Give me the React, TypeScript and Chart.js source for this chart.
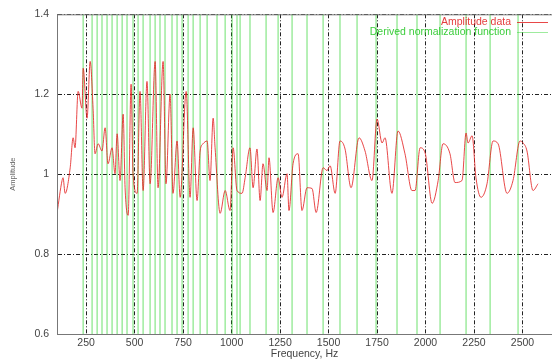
import React, { useEffect, useRef } from "react";
import { Chart, registerables } from "chart.js";

Chart.register(...registerables);

const FREQ = [
  100, 126, 131, 142, 168, 183, 193, 209, 229, 235, 255, 271, 286, 296, 312, 332, 348, 363, 384, 399,
  410, 425, 441, 451, 467, 482, 492, 513, 528, 544, 564, 580, 606, 621, 647, 662, 683, 698, 719, 735,
  766, 786, 802, 822, 838, 853, 874, 889, 905, 915, 941, 967, 992, 1008, 1028, 1054, 1070, 1095, 1111, 1131,
  1147, 1162, 1183, 1193, 1214, 1240, 1260, 1286, 1296, 1317, 1343, 1363, 1389, 1415, 1436, 1472, 1492, 1508, 1534, 1559,
  1585, 1616, 1657, 1688, 1724, 1750, 1776, 1791, 1827, 1858, 1894, 1930, 1946, 1972, 1998, 2034, 2065, 2090, 2126, 2152,
  2188, 2209, 2219, 2240, 2260, 2286, 2317, 2348, 2374, 2420, 2451, 2487, 2503, 2523, 2554, 2580,
];

const AMPLITUDE = [
  0.902, 0.984, 0.991, 0.952, 1.016, 1.091, 1.066, 1.207, 1.165, 1.265, 1.14, 1.282, 1.165, 1.051, 1.076, 1.058, 1.116, 1.026, 1.066, 1.001,
  1.101, 0.984, 1.15, 0.966, 0.897, 1.225, 1.001, 0.952, 1.207, 0.959, 1.232, 0.976, 1.282, 0.966, 1.282, 0.976, 1.2, 0.952, 1.083, 0.942,
  1.207, 0.942, 1.116, 0.934, 1.058, 1.076, 1.083, 0.984, 1.14, 1.066, 0.902, 0.959, 0.909, 1.066, 0.959, 0.952, 0.991, 1.066, 0.966, 1.063,
  0.934, 1.026, 0.959, 1.041, 0.904, 0.991, 0.942, 1.001, 0.909, 1.026, 1.051, 0.909, 0.966, 0.964, 0.904, 1.016, 1.009, 1.021, 0.952, 1.083,
  1.063, 0.966, 1.091, 1.058, 0.984, 1.138, 1.078, 1.091, 0.952, 1.108, 1.051, 0.959, 0.959, 1.066, 1.053, 0.927, 0.984, 1.076, 1.051, 0.979,
  0.984, 1.103, 1.078, 1.096, 0.991, 0.942, 0.976, 1.083, 1.076, 0.952, 0.984, 1.083, 1.078, 1.058, 0.959, 0.976,
];

// frequencies where the derived normalization function swings through the whole plot range
const NORM_SPIKES = [
  235, 281, 307, 332, 358, 384, 410, 436, 461, 492, 518, 544, 580, 606, 631, 657, 693, 719, 745, 776,
  802, 838, 874, 925, 967, 1003, 1028, 1044, 1095, 1178, 1240, 1312, 1389, 1472, 1559, 1647, 1745, 1853, 1956, 2075,
  2209, 2333, 2477,
];
const NORM_LOW = 0.0;
const NORM_HIGH = 2.0;

const X_TICKS = [250, 500, 750, 1000, 1250, 1500, 1750, 2000, 2250, 2500];
const Y_TICKS = [0.6, 0.8, 1.0, 1.2, 1.4];
const X_MIN = 100;
const X_MAX = 2652;

const SERIES_LABELS = ["Amplitude data", "Derived normalization function"];
const X_TITLE = "Frequency, Hz";
const Y_TITLE = "Amplitude";

export default function App() {
  const ref = useRef<HTMLCanvasElement | null>(null);

  useEffect(() => {
    if (!ref.current) return;
    const ampData = FREQ.map((f, i) => ({ x: f, y: AMPLITUDE[i] }));
    const normData: { x: number; y: number }[] = [];
    NORM_SPIKES.forEach((f, i) => {
      const a = i % 2 === 0 ? NORM_LOW : NORM_HIGH;
      const b = i % 2 === 0 ? NORM_HIGH : NORM_LOW;
      normData.push({ x: f, y: a }, { x: f, y: b });
    });

    const colors = ["rgba(228,40,40,0.85)", "rgba(40,210,40,0.45)"];
    const textColors = ["rgba(225,40,40,0.9)", "rgba(40,200,40,0.9)"];

    const frameAndLegend = {
      id: "frameAndLegend",
      afterDatasetsDraw(chart: any) {
        const { ctx, chartArea } = chart;
        ctx.save();
        ctx.strokeStyle = "#777";
        ctx.lineWidth = 1;
        ctx.strokeRect(chartArea.left + 0.5, chartArea.top + 0.5, chartArea.right - chartArea.left, chartArea.bottom - chartArea.top);
        ctx.font = "10.5px 'Liberation Sans', Arial, sans-serif";
        ctx.textAlign = "right";
        ctx.textBaseline = "middle";
        const rows = [22, 32];
        SERIES_LABELS.forEach((lab, i) => {
          ctx.fillStyle = textColors[i];
          ctx.fillText(lab, 511, rows[i]);
          ctx.strokeStyle = colors[i];
          ctx.lineWidth = 1;
          ctx.beginPath();
          ctx.moveTo(517, rows[i] + 0.5);
          ctx.lineTo(548, rows[i] + 0.5);
          ctx.stroke();
        });
        ctx.restore();
      },
    };

    const chart = new Chart(ref.current, {
      type: "line",
      data: {
        datasets: [
          {
            label: SERIES_LABELS[0],
            data: ampData,
            borderColor: colors[0],
            borderWidth: 1,
            pointRadius: 0,
            cubicInterpolationMode: "monotone",
            order: 1,
          },
          {
            label: SERIES_LABELS[1],
            data: normData,
            borderColor: colors[1],
            borderWidth: 1.5,
            pointRadius: 0,
            tension: 0,
            order: 2,
          },
        ],
      },
      options: {
        animation: false,
        responsive: false,
        layout: { padding: { top: 10, left: 0, right: 0, bottom: 0 } },
        plugins: { legend: { display: false }, tooltip: { enabled: false } },
        scales: {
          x: {
            type: "linear",
            min: X_MIN,
            max: X_MAX,
            afterBuildTicks: (s: any) => {
              s.ticks = X_TICKS.map((v) => ({ value: v }));
            },
            afterFit: (s: any) => {
              s.height = 28;
            },
            ticks: {
              callback: (v: any) => String(v),
              color: "#444",
              padding: 3,
              maxRotation: 0,
              autoSkip: false,
              font: { family: "'Liberation Sans', Arial, sans-serif", size: 10.5 },
            },
            grid: { color: "#222", lineWidth: 1, drawTicks: false },
            border: { display: true, color: "#555", width: 1, dash: [4, 2, 1, 2] },
            title: {
              display: true,
              text: X_TITLE,
              color: "#444",
              padding: { top: 0, bottom: 2 },
              font: { family: "'Liberation Sans', Arial, sans-serif", size: 10.5 },
            },
          },
          y: {
            type: "linear",
            min: 0.6,
            max: 1.4,
            afterBuildTicks: (s: any) => {
              s.ticks = Y_TICKS.map((v) => ({ value: v }));
            },
            afterFit: (s: any) => {
              s.width = 57;
            },
            ticks: {
              callback: (v: any) => String(Math.round(v * 10) / 10),
              color: "#444",
              padding: 8,
              font: { family: "'Liberation Sans', Arial, sans-serif", size: 10.5 },
            },
            grid: { color: "#222", lineWidth: 1, drawTicks: false },
            border: { display: true, color: "#555", width: 1, dash: [4, 2, 1, 2] },
            title: {
              display: true,
              text: Y_TITLE,
              color: "#666",
              padding: { top: 8, bottom: 0 },
              font: { family: "'Liberation Sans', Arial, sans-serif", size: 7.5 },
            },
          },
        },
      },
      plugins: [frameAndLegend],
    } as any);
    return () => chart.destroy();
  }, []);

  return (
    <div style={{ position: "absolute", left: 0, top: 0, width: 552, height: 362, background: "#fff" }}>
      <canvas ref={ref} width={552} height={362} />
    </div>
  );
}
